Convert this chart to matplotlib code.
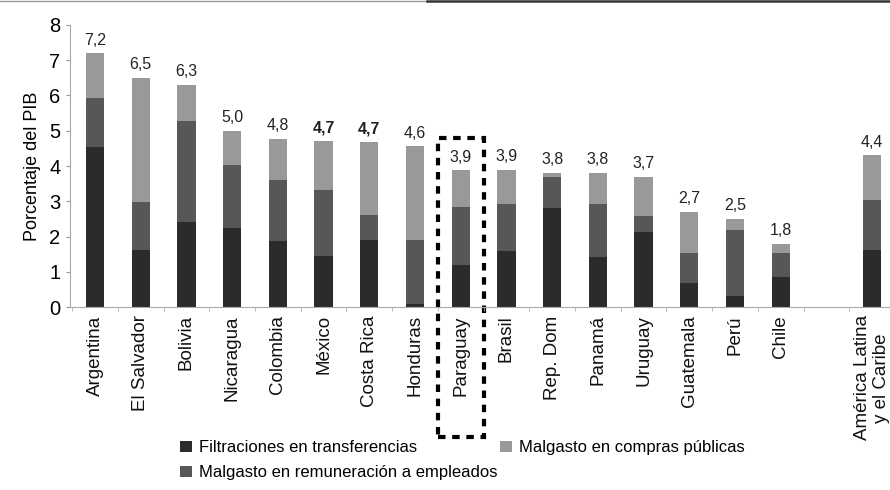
import numpy as np
import matplotlib.pyplot as plt
from matplotlib.patches import Rectangle
from matplotlib.lines import Line2D

plt.rcParams["font.family"] = ["Liberation Sans", "DejaVu Sans"]

paises = ["Argentina", "El Salvador", "Bolivia", "Nicaragua", "Colombia", "México",
          "Costa Rica", "Honduras", "Paraguay", "Brasil", "Rep. Dom", "Panamá",
          "Uruguay", "Guatemala", "Perú", "Chile", "América Latina\ny el Caribe"]
# posiciones: hueco de una barra antes del promedio regional
posiciones = list(range(16)) + [17]

filtraciones = [4.55, 1.63, 2.41, 2.23, 1.88, 1.44, 1.89, 0.08, 1.19, 1.60, 2.80, 1.41,
                2.14, 0.69, 0.32, 0.84, 1.62]
remuneracion = [1.37, 1.35, 2.87, 1.79, 1.72, 1.89, 0.71, 1.81, 1.66, 1.32, 0.90, 1.51,
                0.44, 0.83, 1.87, 0.70, 1.41]
compras = [1.28, 3.52, 1.02, 0.98, 1.18, 1.37, 2.09, 2.67, 1.03, 0.98, 0.10, 0.88,
           1.12, 1.18, 0.31, 0.26, 1.27]
etiquetas = ["7,2", "6,5", "6,3", "5,0", "4,8", "4,7", "4,7", "4,6", "3,9", "3,9", "3,8",
             "3,8", "3,7", "2,7", "2,5", "1,8", "4,4"]
negrita = [False] * 5 + [True, True] + [False] * 10

c_filt = "#2b2b2b"
c_rem = "#575757"
c_comp = "#999999"

fig = plt.figure(figsize=(8.9, 4.9), dpi=100)
ax = fig.add_axes([70 / 890, 183 / 490, 830 / 890, 282 / 490])

x = np.array(posiciones)
f = np.array(filtraciones)
r = np.array(remuneracion)
c = np.array(compras)
w = 0.4
b1 = ax.bar(x, f, w, color=c_filt, label="Filtraciones en transferencias")
b2 = ax.bar(x, r, w, bottom=f, color=c_rem, label="Malgasto en remuneración a empleados")
b3 = ax.bar(x, c, w, bottom=f + r, color=c_comp, label="Malgasto en compras públicas")

tot = f + r + c
for xi, t, lab, bold in zip(x, tot, etiquetas, negrita):
    ax.annotate(lab, (xi, t), xytext=(0, 4), textcoords="offset points",
                ha="center", va="bottom", fontsize=11.5,
                fontweight="bold" if bold else "normal", color="#222222")

ax.set_xlim(-0.547, 17.61)
ax.set_ylim(0, 8)
ax.set_yticks(range(0, 9))
ax.tick_params(axis="y", labelsize=14.5, length=3, color="#999999", pad=4)
ax.set_xticks(x)
ax.set_xticklabels(paises, rotation=90, fontsize=13.5, va="top", ha="center",
                   multialignment="center", color="#111111")
ax.tick_params(axis="x", length=0, pad=6)
ax.set_xticks(np.arange(-0.5, 18, 1), minor=True)
ax.tick_params(axis="x", which="minor", length=3, color="#aaaaaa")

for s in ["top", "right"]:
    ax.spines[s].set_visible(False)
ax.spines["left"].set_color("#aaaaaa")
ax.spines["bottom"].set_color("#aaaaaa")

ax.set_ylabel("Porcentaje del PIB", fontsize=13, labelpad=6)

# recuadro de Paraguay
rect = Rectangle((7.5, -3.69), 1.0, 8.49, fill=False, edgecolor="black",
                 linewidth=3, linestyle=(0, (1.8, 1.6)), clip_on=False)
ax.add_patch(rect)

kw = dict(loc="upper left", frameon=False, fontsize=12, handlelength=0.7,
          handleheight=0.7, handletextpad=0.4, labelspacing=0.6, borderpad=0)
fig.legend(handles=[b1, b2], bbox_to_anchor=(172 / 890, 1 - 432 / 490), **kw)
fig.legend(handles=[b3], bbox_to_anchor=(492 / 890, 1 - 432 / 490), **kw)

fig.add_artist(Line2D([0.0, 0.48], [0.998, 0.998], color="#999999", linewidth=1))
fig.add_artist(Line2D([0.48, 1.0], [0.997, 0.997], color="#333333", linewidth=1.8))

fig.savefig("out.png", dpi=100)
